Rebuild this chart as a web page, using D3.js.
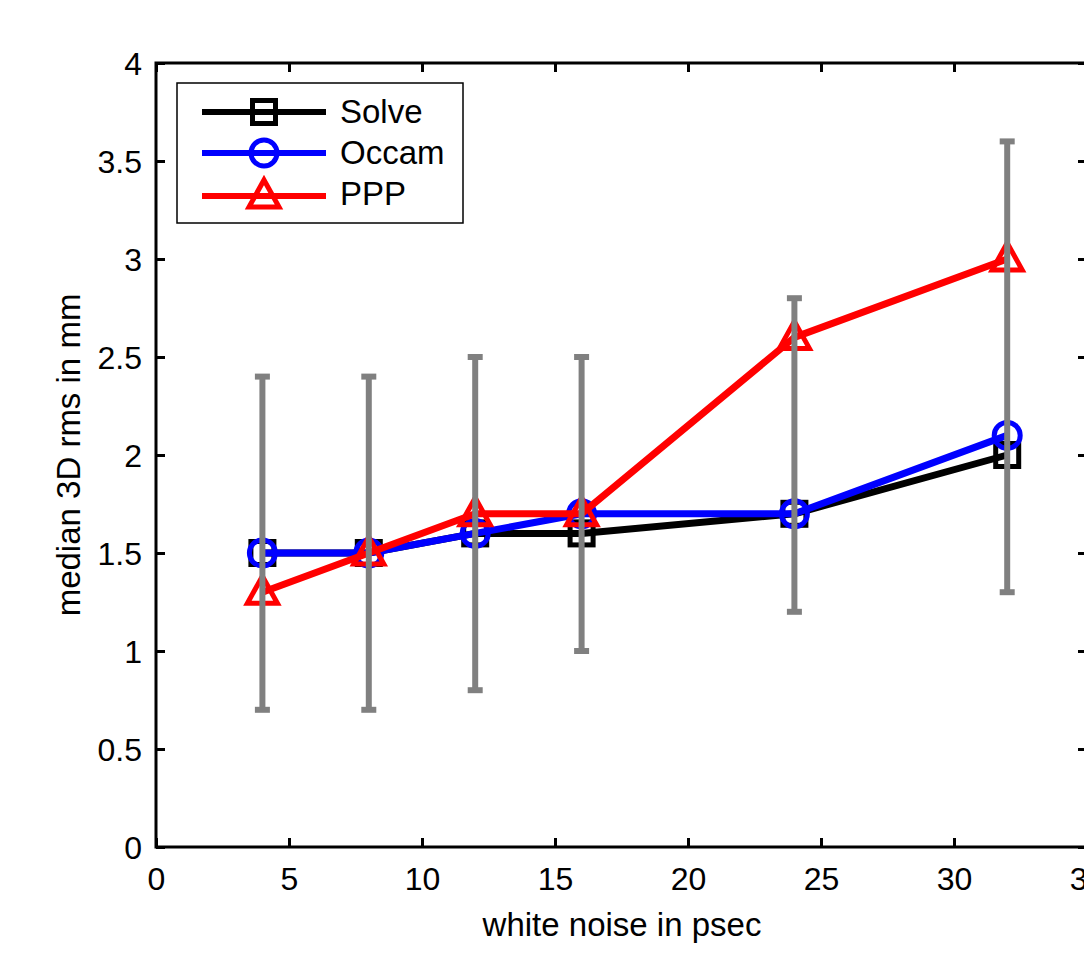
<!DOCTYPE html>
<html><head><meta charset="utf-8">
<script src="https://cdn.jsdelivr.net/npm/d3@7"></script>
<style>html,body{margin:0;padding:0;background:#fff;overflow:hidden}</style>
</head><body><svg id="c" width="1084" height="956"></svg>
<script>
const xs = [4, 8, 12, 16, 24, 32];
const solve = [1.5, 1.5, 1.6, 1.6, 1.7, 2.0];
const occam = [1.5, 1.5, 1.6, 1.7, 1.7, 2.1];
const ppp = [1.3, 1.5, 1.7, 1.7, 2.6, 3.0];
const errLow = [0.7, 0.7, 0.8, 1.0, 1.2, 1.3];
const errHigh = [2.4, 2.4, 2.5, 2.5, 2.8, 3.6];
const xTicks = [0, 5, 10, 15, 20, 25, 30, 35];
const yTicks = [0, 0.5, 1, 1.5, 2, 2.5, 3, 3.5, 4];
const seriesNames = ["Solve", "Occam", "PPP"];

const font = "'Liberation Sans', Arial, Helvetica, sans-serif";
const svg = d3.select("#c");
const L = 156, T = 63, R = 1087, B = 847;
const x = d3.scaleLinear().domain([0, 35]).range([L, R]);
const y = d3.scaleLinear().domain([0, 4]).range([B, T]);

svg.append("rect").attr("x", L).attr("y", T).attr("width", R - L).attr("height", B - T)
  .attr("fill", "none").attr("stroke", "#000").attr("stroke-width", 3);

const xb = svg.append("g").attr("transform", `translate(0,${B})`)
  .call(d3.axisBottom(x).tickValues(xTicks).tickSizeInner(-9).tickSizeOuter(0).tickPadding(20).tickFormat(d3.format("d")));
const xt = svg.append("g").attr("transform", `translate(0,${T})`)
  .call(d3.axisTop(x).tickValues(xTicks).tickSizeInner(-9).tickSizeOuter(0).tickFormat(""));
const yl = svg.append("g").attr("transform", `translate(${L},0)`)
  .call(d3.axisLeft(y).tickValues(yTicks).tickSizeInner(-9).tickSizeOuter(0).tickPadding(14).tickFormat(d => String(d)));
const yr = svg.append("g").attr("transform", `translate(${R},0)`)
  .call(d3.axisRight(y).tickValues(yTicks).tickSizeInner(-9).tickSizeOuter(0).tickFormat(""));
[xb, xt, yl, yr].forEach(g => {
  g.select(".domain").remove();
  g.selectAll(".tick line").attr("stroke", "#000").attr("stroke-width", 3);
  g.selectAll(".tick text").attr("font-family", font).attr("font-size", 32).attr("fill", "#000");
});
xb.selectAll(".tick text").attr("dy", "0.71em");
yl.selectAll(".tick text").attr("dy", "0.36em");

svg.append("text").attr("x", 622).attr("y", 936)
  .attr("text-anchor", "middle").attr("font-family", font).attr("font-size", 33).text("white noise in psec");
svg.append("text").attr("transform", `translate(80,455) rotate(-90)`)
  .attr("text-anchor", "middle").attr("font-family", font).attr("font-size", 33).text("median 3D rms in mm");

const line = d3.line().x((d, i) => x(xs[i])).y(d => y(d));
const plot = svg.append("g");

function marker(g, type, cx, cy, color) {
  if (type === "square") {
    g.append("rect").attr("x", cx - 11.5).attr("y", cy - 11.5).attr("width", 23).attr("height", 23)
      .attr("fill", "none").attr("stroke", color).attr("stroke-width", 5);
  } else if (type === "circle") {
    g.append("circle").attr("cx", cx).attr("cy", cy).attr("r", 13)
      .attr("fill", "none").attr("stroke", color).attr("stroke-width", 5);
  } else {
    g.append("path").attr("d", `M${cx},${cy - 16} L${cx + 15},${cy + 11} L${cx - 15},${cy + 11} Z`)
      .attr("fill", "none").attr("stroke", color).attr("stroke-width", 5).attr("stroke-linejoin", "miter");
  }
}

const series = [
  {name: seriesNames[0], vals: solve, color: "#000000", m: "square"},
  {name: seriesNames[1], vals: occam, color: "#0000ff", m: "circle"},
  {name: seriesNames[2], vals: ppp, color: "#ff0000", m: "triangle"}
];
series.forEach(s => {
  plot.append("path").attr("d", line(s.vals)).attr("fill", "none")
    .attr("stroke", s.color).attr("stroke-width", 7).attr("stroke-linejoin", "round");
  s.vals.forEach((v, i) => marker(plot, s.m, x(xs[i]), y(v), s.color));
});

const eb = svg.append("g").attr("stroke", "#808080");
xs.forEach((xv, i) => {
  const cx = x(xv);
  eb.append("line").attr("x1", cx).attr("x2", cx).attr("y1", y(errLow[i])).attr("y2", y(errHigh[i])).attr("stroke-width", 6);
  [errLow[i], errHigh[i]].forEach(v => {
    eb.append("line").attr("x1", cx - 7.5).attr("x2", cx + 7.5).attr("y1", y(v)).attr("y2", y(v)).attr("stroke-width", 6);
  });
});

const lg = svg.append("g");
lg.append("rect").attr("x", 177).attr("y", 83).attr("width", 286).attr("height", 140)
  .attr("fill", "#fff").attr("stroke", "#000").attr("stroke-width", 1.5);
const rowsY = [112, 153, 196];
const textY = [111, 152, 193];
series.forEach((s, i) => {
  const yy = rowsY[i];
  lg.append("line").attr("x1", 202).attr("x2", 326).attr("y1", yy).attr("y2", yy)
    .attr("stroke", s.color).attr("stroke-width", 6);
  marker(lg, s.m, 264, yy, s.color);
  lg.append("text").attr("x", 340).attr("y", textY[i]).attr("dy", "0.36em")
    .attr("font-family", font).attr("font-size", 33).text(s.name);
});
</script></body></html>
